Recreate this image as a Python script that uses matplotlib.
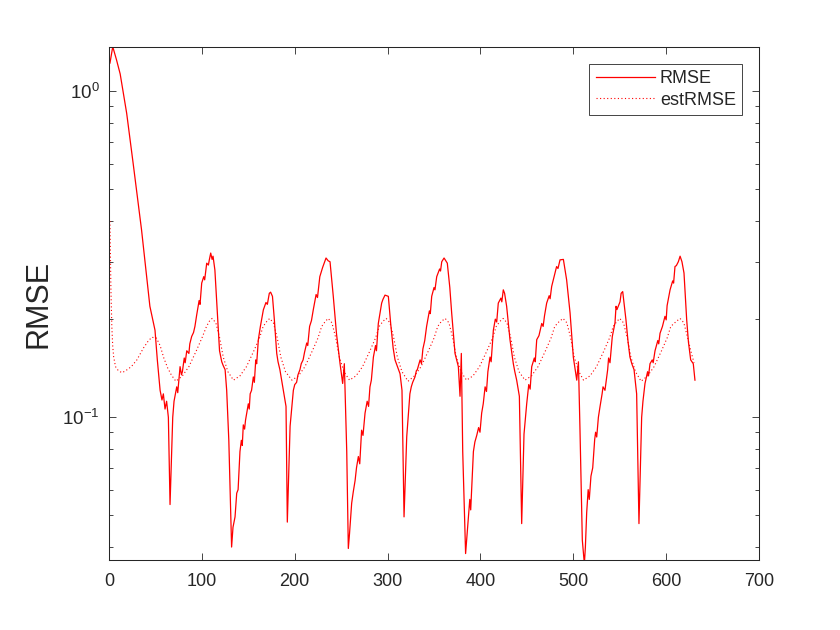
import numpy as np
import matplotlib.pyplot as plt
from matplotlib.ticker import LogLocator, NullFormatter

plt.rcParams['font.family'] = ['Liberation Sans', 'DejaVu Sans']
plt.rcParams['mathtext.default'] = 'regular'

# RMSE (solid) -- (iteration, value)
rmse_pts = [
    (1, 1.22), (4, 1.37), (8, 1.25), (12, 1.13), (19, 0.856), (26, 0.60), (35, 0.376),
    (44, 0.219), (49.5, 0.185), (52, 0.15), (55, 0.121), (57, 0.113), (58.5, 0.118),
    (60.3, 0.106), (62, 0.112), (63.9, 0.100), (65.7, 0.054), (68.6, 0.100), (70, 0.112),
    (72.9, 0.124), (74, 0.119), (76.5, 0.143), (78, 0.135), (79, 0.138), (81, 0.152),
    (82, 0.147), (83.7, 0.160), (86, 0.157), (87, 0.168), (89, 0.177), (91, 0.182),
    (92.5, 0.190), (94.4, 0.206), (97, 0.228), (98, 0.222), (99.8, 0.258), (102, 0.270),
    (103, 0.264), (105.2, 0.297), (107, 0.293), (108, 0.304), (109.5, 0.319), (111, 0.305),
    (112, 0.312), (114, 0.283), (117.7, 0.185), (119, 0.160), (121.4, 0.148), (123, 0.144),
    (125, 0.140), (126.7, 0.121), (129, 0.085), (132, 0.040),
    (133.5, 0.046), (135.7, 0.0495), (137.5, 0.0585), (139, 0.060), (141, 0.0785),
    (142.5, 0.085), (143.5, 0.082), (144.6, 0.0948), (146, 0.092), (147, 0.098),
    (148.5, 0.104), (150, 0.110), (151, 0.106), (152, 0.118), (153.5, 0.121),
    (155.4, 0.133), (156.5, 0.128), (158, 0.150), (159, 0.146), (160.8, 0.173),
    (163, 0.19), (166.2, 0.2136), (169, 0.225), (170.5, 0.222), (172.6, 0.240),
    (174, 0.242), (176, 0.235), (178, 0.20), (180.6, 0.157), (182, 0.148), (184, 0.140),
    (187.7, 0.121), (190.6, 0.108), (192, 0.0477),
    (195, 0.094), (198.5, 0.121), (200, 0.126), (202, 0.128), (203.5, 0.135),
    (205.6, 0.140), (207, 0.146), (209, 0.150), (210.5, 0.158), (212.9, 0.169),
    (214, 0.166), (216, 0.19), (218, 0.198), (220, 0.214), (223, 0.238), (224.5, 0.233),
    (227, 0.270), (230, 0.288), (231.5, 0.296), (233.7, 0.308), (236, 0.302), (238, 0.300),
    (241.5, 0.235), (245, 0.18), (248.8, 0.146), (251.6, 0.127), (253.4, 0.146),
    (256, 0.0785), (257.7, 0.0396),
    (259, 0.044), (261.3, 0.0545), (263, 0.059), (265, 0.064), (266.5, 0.070),
    (268.5, 0.0758), (270, 0.072), (272, 0.0913), (273.5, 0.088), (275.7, 0.103),
    (278, 0.112), (279.5, 0.108), (281, 0.124), (282.5, 0.130), (284.7, 0.153),
    (287, 0.166), (288, 0.160), (290, 0.194), (293.6, 0.224), (295, 0.230),
    (297.2, 0.237), (300.8, 0.235), (303.3, 0.194), (306, 0.163), (308, 0.150),
    (311, 0.142), (313.4, 0.136), (315.5, 0.121), (317.7, 0.0495),
    (320.6, 0.0872), (324, 0.118), (325.5, 0.124), (327, 0.128), (329.5, 0.133),
    (331, 0.139), (332, 0.140), (335, 0.150), (336.5, 0.146), (338, 0.162), (340, 0.172),
    (342, 0.190), (345, 0.212), (346, 0.208), (347.5, 0.235), (350, 0.25), (351, 0.246),
    (352.9, 0.270), (356, 0.285), (357, 0.281), (358.3, 0.30), (360.8, 0.308),
    (364.3, 0.297), (367, 0.25), (369, 0.209), (372.6, 0.157), (376.2, 0.143),
    (378, 0.116), (379.4, 0.157), (380.9, 0.0785), (384, 0.0382),
    (387, 0.0495), (388.5, 0.056), (389.5, 0.052), (392.4, 0.0785), (394, 0.084),
    (396, 0.088), (398, 0.093), (399.5, 0.090), (401.3, 0.103), (403, 0.110),
    (405, 0.124), (406.5, 0.120), (408, 0.138), (410.3, 0.153), (411.5, 0.148),
    (413.9, 0.185), (416, 0.20), (417.5, 0.196), (419.2, 0.224), (422, 0.232),
    (423, 0.226), (424.6, 0.246), (426, 0.24), (428.2, 0.219), (431.8, 0.173),
    (435.4, 0.146), (437, 0.138), (439, 0.130), (441.9, 0.116), (444.4, 0.0472),
    (446.9, 0.0888), (449.8, 0.110), (452, 0.126), (453.5, 0.122), (455.2, 0.143),
    (458, 0.152), (459, 0.148), (460.6, 0.173), (463, 0.178), (466, 0.194),
    (467.5, 0.190), (469, 0.205), (471.3, 0.224), (474, 0.236), (475, 0.231),
    (476.7, 0.252), (479, 0.268), (482, 0.29), (483.5, 0.286), (485.7, 0.304),
    (489.3, 0.305), (492.8, 0.264), (496.5, 0.209), (500, 0.153), (503.7, 0.130),
    (505.5, 0.148), (507.2, 0.0913), (509.7, 0.042), (511.9, 0.0355),
    (513, 0.04), (514.4, 0.051), (516, 0.06), (517.2, 0.056), (519, 0.066), (520.9, 0.07),
    (523, 0.0854), (524, 0.09), (525.2, 0.087), (527, 0.100), (528.8, 0.108),
    (531, 0.118), (532, 0.124), (534.1, 0.121), (537, 0.140), (538, 0.152),
    (539.5, 0.147), (542, 0.177), (544.9, 0.195), (546, 0.219), (547, 0.214),
    (550.3, 0.226), (551.5, 0.240), (553.2, 0.243), (556.7, 0.199), (559, 0.17),
    (561, 0.153), (563, 0.146), (565.4, 0.140), (568.2, 0.118), (570.7, 0.0472),
    (573.6, 0.100), (575, 0.112), (577.2, 0.127), (580, 0.138), (581, 0.134),
    (582.6, 0.146), (585, 0.15), (586, 0.147), (588, 0.160), (591, 0.172), (592, 0.168),
    (593.4, 0.181), (596, 0.19), (598.7, 0.204), (600, 0.199), (601, 0.22),
    (604.2, 0.246), (607, 0.262), (608, 0.258), (609.5, 0.29), (611, 0.292),
    (613.1, 0.300), (615, 0.312), (617, 0.30), (619.2, 0.277), (622.1, 0.199),
    (624, 0.17), (626.4, 0.150), (629.2, 0.146), (631, 0.130),
]
rmse_x = [p[0] for p in rmse_pts]
rmse_y = [p[1] for p in rmse_pts]

# estRMSE (dotted)
est_x = [1, 2, 3, 4, 5, 7, 10, 14, 18, 24, 30, 37, 42, 46, 51, 55, 59, 63, 67, 72,
         79, 86, 94, 100, 105, 108, 111, 115, 119, 123, 128, 134,
         141, 148, 156, 162, 166, 170, 173, 177, 181, 185, 190, 197,
         204, 211, 219, 225, 229, 233, 236, 240, 244, 248, 253, 259,
         266, 273, 281, 287, 291, 295, 298.5, 302.5, 306.5, 310.5, 315.5, 322,
         329, 336, 344, 350, 354, 358, 362, 366, 370, 374, 379, 385,
         392, 399, 407, 413, 417, 421, 424.5, 428.5, 432.5, 436.5, 441.5, 448,
         455, 462, 470, 476, 480, 485, 489, 493, 497, 501, 506, 511,
         518, 525, 533, 539, 543, 547, 550, 554, 558, 562, 567, 573,
         580, 587, 595, 601, 605, 611, 615, 619, 623, 627, 630]
est_y = [0.40, 0.25, 0.19, 0.165, 0.153, 0.143, 0.139, 0.137, 0.139, 0.143, 0.150, 0.163,
         0.171, 0.176, 0.175, 0.166, 0.152, 0.142, 0.135, 0.129,
         0.134, 0.143, 0.160, 0.175, 0.190, 0.197, 0.201, 0.195, 0.176, 0.153, 0.138, 0.130,
         0.134, 0.143, 0.160, 0.175, 0.190, 0.197, 0.201, 0.195, 0.176, 0.153, 0.138, 0.130,
         0.134, 0.143, 0.160, 0.175, 0.190, 0.197, 0.201, 0.195, 0.176, 0.153, 0.138, 0.130,
         0.134, 0.143, 0.160, 0.175, 0.190, 0.197, 0.201, 0.195, 0.176, 0.153, 0.138, 0.129,
         0.134, 0.143, 0.160, 0.175, 0.190, 0.197, 0.201, 0.195, 0.176, 0.153, 0.138, 0.130,
         0.134, 0.143, 0.160, 0.175, 0.190, 0.197, 0.201, 0.195, 0.176, 0.153, 0.138, 0.130,
         0.134, 0.143, 0.160, 0.175, 0.190, 0.197, 0.201, 0.195, 0.176, 0.153, 0.138, 0.130,
         0.134, 0.143, 0.160, 0.175, 0.190, 0.197, 0.201, 0.195, 0.176, 0.153, 0.138, 0.129,
         0.134, 0.143, 0.160, 0.175, 0.190, 0.197, 0.201, 0.195, 0.176, 0.158, 0.147]

dark = (0.15, 0.15, 0.15)

fig = plt.figure(figsize=(8.4, 6.3), dpi=100)
ax = fig.add_axes([0.1298, 0.1111, 0.7738, 0.8143])

ax.plot(rmse_x, rmse_y, '-', color='red', lw=0.9, label='RMSE')
ax.plot(est_x, est_y, color='red', lw=0.8, linestyle=(0, (1, 2.2)), label='estRMSE')

ax.set_yscale('log')
ax.set_xlim(0, 700)
ax.set_ylim(0.0365, 1.367)
ax.set_xticks(np.arange(0, 701, 100))
ax.yaxis.set_major_locator(LogLocator(base=10))
ax.yaxis.set_minor_locator(LogLocator(base=10, subs=np.arange(2, 10)))
ax.yaxis.set_minor_formatter(NullFormatter())

ax.tick_params(which='both', direction='in', top=True, right=True, color=dark,
               labelcolor=dark, labelsize=13)
ax.tick_params(axis='y', labelsize=13.5)
ax.tick_params(which='major', length=4.7, width=0.6)
ax.tick_params(which='minor', length=2.6, width=0.6)
ax.tick_params(axis='x', pad=9)
ax.tick_params(axis='y', pad=7)
for s in ax.spines.values():
    s.set_color(dark)
    s.set_linewidth(0.75)

ax.set_ylabel('RMSE', fontsize=22, color=dark)
ax.yaxis.set_label_coords(-0.086, 0.5)

leg = ax.legend(loc='upper right', bbox_to_anchor=(0.974, 0.967), borderaxespad=0,
                fontsize=13, handlelength=3.3, handletextpad=0.25, labelspacing=0.25,
                borderpad=0.35, fancybox=False, framealpha=1)
leg.get_frame().set_edgecolor(dark)
leg.get_frame().set_linewidth(0.6)
for t in leg.get_texts():
    t.set_color(dark)

fig.savefig('out.png', dpi=100)
